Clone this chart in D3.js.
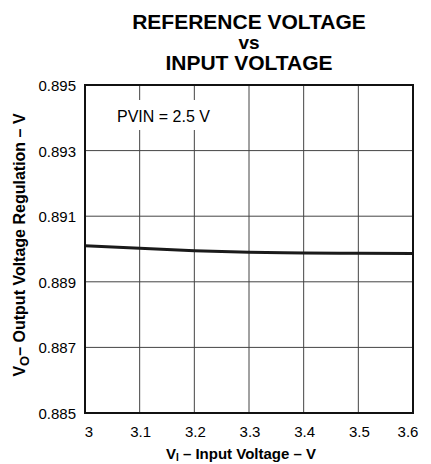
<!DOCTYPE html>
<html>
<head>
<meta charset="utf-8">
<script src="https://cdn.jsdelivr.net/npm/d3@7"></script>
<style>
  body { margin: 0; background: #fff; }
  svg { display: block; font-family: Arial, "Liberation Sans", Helvetica, sans-serif; }
</style>
</head>
<body>
<div id="container"></div>
<script>
var w = 431
var h = 464

// data
var inputVoltage = [3.0, 3.1, 3.2, 3.3, 3.4, 3.5, 3.6]
var outputVoltage = [0.89010, 0.89002, 0.88995, 0.88990, 0.88988, 0.88987, 0.88986]
var xTicks = [3, 3.1, 3.2, 3.3, 3.4, 3.5, 3.6]
var yTicks = [0.885, 0.887, 0.889, 0.891, 0.893, 0.895]
var titleLines = ["REFERENCE VOLTAGE", "vs", "INPUT VOLTAGE"]

var svg = d3.select("#container").append("svg")
    .attr("width", w)
    .attr("height", h)

var plotLeft = 85, plotRight = 413, plotTop = 85, plotBottom = 413

var x = d3.scaleLinear().domain([3, 3.6]).range([plotLeft, plotRight])
var y = d3.scaleLinear().domain([0.885, 0.895]).range([plotBottom, plotTop])

// title
var titleY = [29, 49, 70]
var titleSize = [21, 19, 21]
svg.selectAll("text.title")
    .data(titleLines)
    .enter()
    .append("text")
    .attr("class", "title")
    .attr("x", (plotLeft + plotRight) / 2)
    .attr("y", (d, i) => titleY[i])
    .attr("text-anchor", "middle")
    .style("font-weight", "bold")
    .style("font-size", (d, i) => titleSize[i] + "px")
    .text(d => d)

// grid
var g = svg.append("g")

g.selectAll("line.hgrid")
    .data(yTicks.slice(1, -1))
    .enter()
    .append("line")
    .attr("x1", plotLeft).attr("x2", plotRight)
    .attr("y1", d => y(d)).attr("y2", d => y(d))
    .attr("stroke", "#444")
    .attr("stroke-width", 1)

g.selectAll("line.vgrid")
    .data(xTicks.slice(1, -1))
    .enter()
    .append("line")
    .attr("x1", d => x(d)).attr("x2", d => x(d))
    .attr("y1", plotTop).attr("y2", plotBottom)
    .attr("stroke", "#444")
    .attr("stroke-width", 1)

// label box that covers the grid
g.append("rect")
    .attr("x", 114).attr("y", 100)
    .attr("width", 98).attr("height", 30)
    .attr("fill", "#fff")

g.append("text")
    .attr("x", 117)
    .attr("y", 122)
    .style("font-size", "16px")
    .text("PVIN = 2.5 V")

// curve
var line = d3.line()
    .x((d, i) => x(inputVoltage[i]))
    .y(d => y(d))
    .curve(d3.curveMonotoneX)

g.append("path")
    .datum(outputVoltage)
    .attr("d", line)
    .attr("fill", "none")
    .attr("stroke", "#1a1a1a")
    .attr("stroke-width", 3)

// frame
g.append("rect")
    .attr("x", plotLeft).attr("y", plotTop)
    .attr("width", plotRight - plotLeft).attr("height", plotBottom - plotTop)
    .attr("fill", "none")
    .attr("stroke", "#111")
    .attr("stroke-width", 2)

// tick labels
svg.selectAll("text.ytick")
    .data(yTicks)
    .enter()
    .append("text")
    .attr("class", "ytick")
    .attr("x", 76)
    .attr("y", d => y(d) + 6)
    .attr("text-anchor", "end")
    .style("font-size", "15px")
    .text(d => d3.format(".3f")(d))

svg.selectAll("text.xtick")
    .data(xTicks)
    .enter()
    .append("text")
    .attr("class", "xtick")
    .attr("x", d => x(d) + (d == 3 ? 4 : d == 3.6 ? -5 : 1))
    .attr("y", 437)
    .attr("text-anchor", "middle")
    .style("font-size", "15px")
    .text(d => d3.format("")(d))

// axis titles
var xt = svg.append("text")
    .attr("x", (plotLeft + plotRight) / 2 - 8)
    .attr("y", 459)
    .attr("text-anchor", "middle")
    .style("font-weight", "bold")
    .style("font-size", "15px")
xt.append("tspan").text("V")
xt.append("tspan").attr("dy", 2).style("font-size", "10px").text("I")
xt.append("tspan").attr("dy", -2).text(" – Input Voltage – V")

var yt = svg.append("text")
    .attr("transform", "translate(25," + 245 + ") rotate(-90)")
    .attr("text-anchor", "middle")
    .style("font-weight", "bold")
    .style("font-size", "16px")
yt.append("tspan").text("V")
yt.append("tspan").attr("dy", 4).style("font-size", "13px").text("O")
yt.append("tspan").attr("dy", -4).text("– Output Voltage Regulation – V")
</script>
</body>
</html>
